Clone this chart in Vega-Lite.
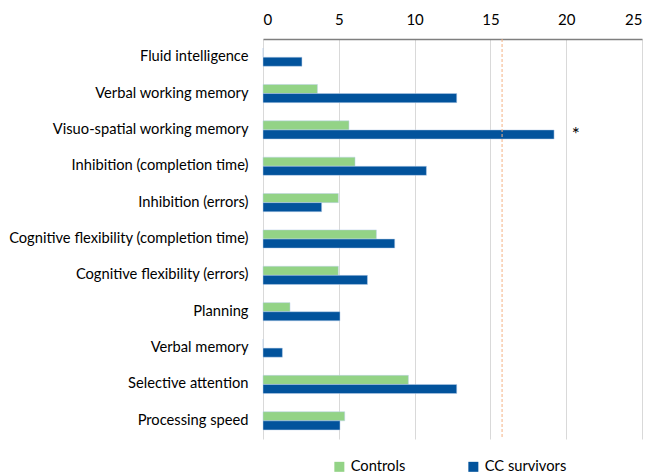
{
  "$schema": "https://vega.github.io/schema/vega-lite/v6.json",
  "width": 379,
  "height": 400,
  "autosize": {"type": "none"},
  "padding": {"left": 263, "top": 39, "right": 6, "bottom": 35},
  "background": "white",
  "config": {
    "view": {"stroke": null},
    "font": "Lato",
    "axis": {"labelFont": "Lato", "labelFontSize": 14.7, "labelColor": "#000000"},
    "legend": {"labelFont": "Lato", "labelFontSize": 14.7, "labelColor": "#000000"}
  },
  "datasets": {
    "bars": [
      {"measure": "Fluid intelligence", "group": "Controls", "value": 0},
      {"measure": "Fluid intelligence", "group": "CC survivors", "value": 2.57},
      {"measure": "Verbal working memory", "group": "Controls", "value": 3.59},
      {"measure": "Verbal working memory", "group": "CC survivors", "value": 12.78},
      {"measure": "Visuo-spatial working memory", "group": "Controls", "value": 5.67},
      {"measure": "Visuo-spatial working memory", "group": "CC survivors", "value": 19.2},
      {"measure": "Inhibition (completion time)", "group": "Controls", "value": 6.07},
      {"measure": "Inhibition (completion time)", "group": "CC survivors", "value": 10.78},
      {"measure": "Inhibition (errors)", "group": "Controls", "value": 4.97},
      {"measure": "Inhibition (errors)", "group": "CC survivors", "value": 3.87},
      {"measure": "Cognitive flexibility (completion time)", "group": "Controls", "value": 7.48},
      {"measure": "Cognitive flexibility (completion time)", "group": "CC survivors", "value": 8.69},
      {"measure": "Cognitive flexibility (errors)", "group": "Controls", "value": 4.97},
      {"measure": "Cognitive flexibility (errors)", "group": "CC survivors", "value": 6.89},
      {"measure": "Planning", "group": "Controls", "value": 1.78},
      {"measure": "Planning", "group": "CC survivors", "value": 5.08},
      {"measure": "Verbal memory", "group": "Controls", "value": 0},
      {"measure": "Verbal memory", "group": "CC survivors", "value": 1.28},
      {"measure": "Selective attention", "group": "Controls", "value": 9.59},
      {"measure": "Selective attention", "group": "CC survivors", "value": 12.78},
      {"measure": "Processing speed", "group": "Controls", "value": 5.39},
      {"measure": "Processing speed", "group": "CC survivors", "value": 5.08}
    ],
    "threshold": [{"value": 15.77}],
    "marks": [{"measure": "Visuo-spatial working memory", "value": 20.64, "label": "*"}]
  },
  "layer": [
    {
      "data": {"name": "bars"},
      "mark": {"type": "bar", "stroke": "#bcd0ea", "strokeWidth": 0.5},
      "encoding": {
        "y": {
          "field": "measure", "type": "nominal", "sort": null,
          "scale": {"paddingInner": 0.5, "paddingOuter": 0.25},
          "axis": {"title": null, "domain": false, "ticks": false, "labelPadding": 15, "labelLimit": 300}
        },
        "yOffset": {
          "field": "group", "type": "nominal",
          "sort": ["Controls", "CC survivors"],
          "scale": {"paddingInner": 0, "paddingOuter": 0}
        },
        "x": {
          "field": "value", "type": "quantitative",
          "scale": {"domain": [0, 25], "nice": false},
          "axis": {
            "orient": "top", "title": null, "values": [0, 5, 10, 15, 20, 25],
            "ticks": false, "labelPadding": 12, "labelFontSize": 15, "domainColor": "#7f7f7f", "domainWidth": 1.5,
            "gridColor": "#d9d9d9", "gridWidth": 1
          }
        },
        "color": {
          "field": "group", "type": "nominal",
          "sort": ["Controls", "CC survivors"],
          "scale": {"domain": ["Controls", "CC survivors"], "range": ["#93d386", "#02539c"]},
          "legend": {
            "title": null, "orient": "none", "direction": "horizontal",
            "legendX": 69, "legendY": 420,
            "symbolType": "square", "symbolSize": 100, "symbolStrokeWidth": 0,
            "columnPadding": 60, "labelOffset": 4
          }
        }
      }
    },
    {
      "data": {"name": "threshold"},
      "mark": {"type": "rule", "color": "#f4b183", "strokeDash": [3, 2], "strokeWidth": 1},
      "encoding": {"x": {"field": "value", "type": "quantitative"}}
    },
    {
      "data": {"name": "marks"},
      "mark": {"type": "text", "fontSize": 19, "font": "Lato", "color": "#000000", "dy": 5},
      "encoding": {
        "x": {"field": "value", "type": "quantitative"},
        "y": {"field": "measure", "type": "nominal", "sort": null},
        "text": {"field": "label"}
      }
    }
  ]
}
